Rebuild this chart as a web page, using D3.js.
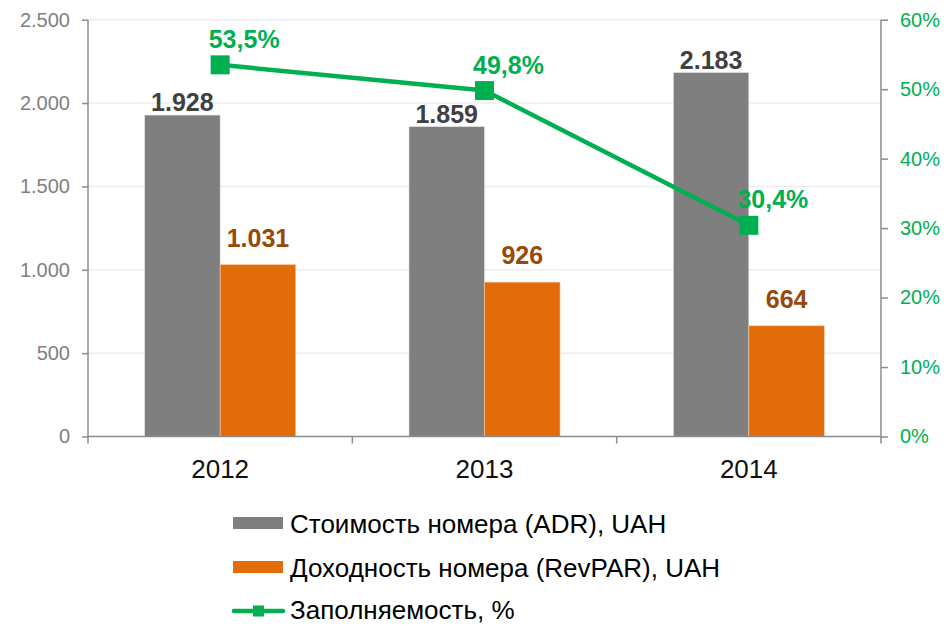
<!DOCTYPE html>
<html>
<head>
<meta charset="utf-8">
<script src="https://cdn.jsdelivr.net/npm/d3@7"></script>
<style>
  body { margin: 0; background: #fff; }
  svg text { font-family: "Liberation Sans", Arial, sans-serif; }
</style>
</head>
<body>
<div id="container"></div>
<script>
// Data
const years = ['2012', '2013', '2014'];
const adrValues = [1928, 1859, 2183];
const revparValues = [1031, 926, 664];
const occupancyValues = [53.5, 49.8, 30.4];
const leftTicks = [0, 500, 1000, 1500, 2000, 2500];
const rightTicks = [0, 10, 20, 30, 40, 50, 60];
const legendLabels = ['Стоимость номера (ADR), UAH', 'Доходность номера (RevPAR), UAH', 'Заполняемость, %'];

// Layout
const width = 947;
const height = 626;
const plot = { left: 88, right: 881, top: 19.7, bottom: 436.5 };

const grey = '#7f7f7f';
const orange = '#e36c0a';
const green = '#00b050';
const axisGrey = '#8c8c8c';

const fmtNum = d3.formatLocale({ decimal: ',', thousands: '.', grouping: [3], currency: ['', ''] });
const thousands = fmtNum.format(',d');
const pct1 = v => fmtNum.format('.1f')(v) + '%';

const svg = d3.select('#container').append('svg')
  .attr('width', width)
  .attr('height', height);

// Scales
const x = d3.scaleBand().domain(years).range([plot.left, plot.right]);
const xSub = d3.scaleBand().domain(['adr', 'revpar'])
  .range([0, x.bandwidth()]).paddingInner(0).paddingOuter(0.75);
const yLeft = d3.scaleLinear().domain([0, 2500]).range([plot.bottom, plot.top]);
const yRight = d3.scaleLinear().domain([0, 60]).range([plot.bottom, plot.top]);

// Gridlines
svg.append('g').selectAll('line')
  .data(leftTicks.filter(d => d > 0))
  .enter().append('line')
  .attr('x1', plot.left).attr('x2', plot.right)
  .attr('y1', d => yLeft(d)).attr('y2', d => yLeft(d))
  .attr('stroke', '#ececec').attr('stroke-width', 1.5);

// Bars
const rows = years.map((y, i) => ({ year: y, adr: adrValues[i], revpar: revparValues[i], occ: occupancyValues[i] }));

const groups = svg.append('g').selectAll('g')
  .data(rows).enter().append('g')
  .attr('transform', d => `translate(${x(d.year)},0)`);

groups.append('rect')
  .attr('x', xSub('adr')).attr('width', xSub.bandwidth())
  .attr('y', d => yLeft(d.adr)).attr('height', d => yLeft(0) - yLeft(d.adr))
  .attr('fill', grey).attr('stroke', '#e6e6e6').attr('stroke-width', 0.6);

groups.append('rect')
  .attr('x', xSub('revpar')).attr('width', xSub.bandwidth())
  .attr('y', d => yLeft(d.revpar)).attr('height', d => yLeft(0) - yLeft(d.revpar))
  .attr('fill', orange).attr('stroke', '#f3c9a6').attr('stroke-width', 0.6);

// Bar labels
groups.append('text')
  .attr('x', xSub('adr') + xSub.bandwidth() / 2)
  .attr('y', d => yLeft(d.adr) - 4)
  .attr('text-anchor', 'middle')
  .attr('font-size', 25).attr('font-weight', 'bold')
  .attr('fill', '#404040')
  .text(d => thousands(d.adr));

groups.append('text')
  .attr('x', xSub('revpar') + xSub.bandwidth() / 2)
  .attr('y', d => yLeft(d.revpar) - 18)
  .attr('text-anchor', 'middle')
  .attr('font-size', 25).attr('font-weight', 'bold')
  .attr('fill', '#984807')
  .text(d => thousands(d.revpar));

// Axes
const axisLeft = svg.append('g')
  .attr('transform', `translate(${plot.left},0)`)
  .call(d3.axisLeft(yLeft).tickValues(leftTicks).tickSize(6).tickPadding(12)
    .tickFormat(d => thousands(d)));
axisLeft.selectAll('line, path').attr('stroke', axisGrey).attr('stroke-width', 1.5);
axisLeft.select('.domain').attr('d', `M0,${plot.bottom + 7}V${plot.top}`);
axisLeft.selectAll('text').attr('font-size', 20).attr('fill', '#7f7f7f').attr('font-family', null);

const axisRight = svg.append('g')
  .attr('transform', `translate(${plot.right},0)`)
  .call(d3.axisRight(yRight).tickValues(rightTicks).tickSize(7).tickPadding(12)
    .tickFormat(d => d + '%'));
axisRight.selectAll('line, path').attr('stroke', axisGrey).attr('stroke-width', 1.5);
axisRight.select('.domain').attr('d', `M0,${plot.bottom + 7}V${plot.top}`);
axisRight.selectAll('text').attr('font-size', 20).attr('fill', green).attr('font-family', null);

// X axis baseline with ticks at category boundaries
const xAxis = svg.append('g');
xAxis.append('line')
  .attr('x1', plot.left).attr('x2', plot.right)
  .attr('y1', plot.bottom).attr('y2', plot.bottom)
  .attr('stroke', axisGrey).attr('stroke-width', 1.5);
xAxis.selectAll('.bt')
  .data(years.slice(1))
  .enter().append('line')
  .attr('x1', d => x(d)).attr('x2', d => x(d))
  .attr('y1', plot.bottom).attr('y2', plot.bottom + 7)
  .attr('stroke', axisGrey).attr('stroke-width', 1.5);
xAxis.selectAll('text')
  .data(years).enter().append('text')
  .attr('x', d => x(d) + x.bandwidth() / 2)
  .attr('y', plot.bottom + 41.5)
  .attr('text-anchor', 'middle')
  .attr('font-size', 26).attr('fill', '#111')
  .text(d => d);

// Occupancy line
const cx = d => x(d.year) + x.bandwidth() / 2;
svg.append('path')
  .datum(rows)
  .attr('d', d3.line().x(cx).y(d => yRight(d.occ)))
  .attr('fill', 'none').attr('stroke', green).attr('stroke-width', 4.5);

svg.append('g').selectAll('rect')
  .data(rows).enter().append('rect')
  .attr('x', d => cx(d) - 9.5).attr('y', d => yRight(d.occ) - 9.5)
  .attr('width', 19).attr('height', 19)
  .attr('fill', green);

svg.append('g').selectAll('text')
  .data(rows).enter().append('text')
  .attr('x', d => cx(d) + 24)
  .attr('y', d => yRight(d.occ) - 17)
  .attr('text-anchor', 'middle')
  .attr('font-size', 25).attr('font-weight', 'bold')
  .attr('fill', green)
  .text(d => pct1(d.occ));

// Legend
const legend = svg.append('g').attr('transform', 'translate(233,0)');
const rowY = [523, 567, 611];

legend.append('rect').attr('x', 0).attr('y', rowY[0] - 6).attr('width', 50).attr('height', 12).attr('fill', grey);
legend.append('rect').attr('x', 0).attr('y', rowY[1] - 6).attr('width', 50).attr('height', 12).attr('fill', orange);
legend.append('line').attr('x1', 1).attr('x2', 50).attr('y1', rowY[2]).attr('y2', rowY[2])
  .attr('stroke', green).attr('stroke-width', 4.5).attr('stroke-linecap', 'round');
legend.append('rect').attr('x', 20).attr('y', rowY[2] - 5.5).attr('width', 11).attr('height', 11).attr('fill', green);

legend.selectAll('text')
  .data(legendLabels).enter().append('text')
  .attr('x', 57)
  .attr('y', (d, i) => rowY[i] + (i === 2 ? 7.5 : 9.5))
  .attr('font-size', 26).attr('fill', '#000')
  .text(d => d);
</script>
</body>
</html>
